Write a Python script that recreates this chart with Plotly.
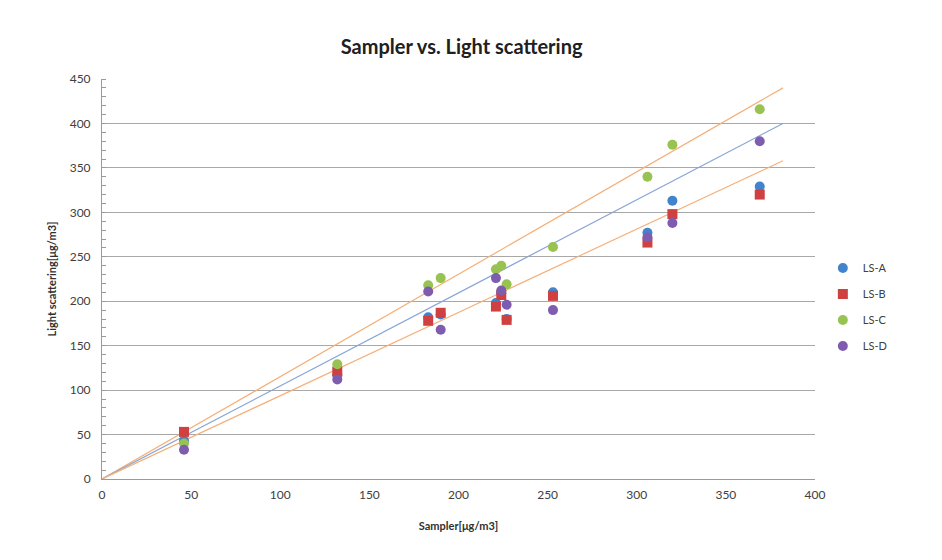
import plotly.graph_objects as go

# sampler concentration (x) for each measurement
sampler = [46, 132, 183, 190, 221, 224, 227, 253, 306, 320, 369]

# light scattering readings per instrument
ls_a = [43, 117, 182, 185, 198, 209, 180, 210, 277, 313, 329]
ls_b = [53, 121, 178, 187, 194, 207, 179, 206, 266, 298, 320]
ls_c = [40, 129, 218, 226, 236, 240, 219, 261, 340, 376, 416]
ls_d = [33, 112, 211, 168, 226, 212, 196, 190, 272, 288, 380]

# reference lines: 1:1 fit and +/-10 %
ref_x = [0, 382]
ref_fit = [0, 400]
ref_hi = [0, 440]
ref_lo = [0, 358]

fig = go.Figure()

line_style = [(ref_hi, "#f5b07a"), (ref_fit, "#87a5d6"), (ref_lo, "#f5b07a")]
for ys, col in line_style:
    fig.add_trace(go.Scatter(x=ref_x, y=ys, mode="lines", line=dict(color=col, width=1.2),
                             showlegend=False, hoverinfo="skip"))

series = [
    ("LS-A", ls_a, "#4183cc", "circle"),
    ("LS-B", ls_b, "#cf4040", "square"),
    ("LS-C", ls_c, "#98c352", "circle"),
    ("LS-D", ls_d, "#7e5db0", "circle"),
]
for name, ys, col, sym in series:
    fig.add_trace(go.Scatter(x=sampler, y=ys, mode="markers", name=name, legendgroup=name,
                             marker=dict(color=col, symbol=sym, size=10)))

clear = "rgba(0,0,0,0)"
fig.update_layout(
    width=942, height=560,
    margin=dict(l=94, r=135, t=71, b=89),
    paper_bgcolor="white", plot_bgcolor="white",
    font=dict(family="Lato, Open Sans, sans-serif", color="#404040", size=12),
    title=dict(text="<b>Sampler vs. Light scattering</b>", x=0.4815, xanchor="center", y=0.943,
               font=dict(size=20, color="#202020")),
    xaxis=dict(range=[0, 400], dtick=50, showgrid=False, zeroline=False,
               showline=True, linecolor="#9a9a9a", linewidth=1,
               ticks="outside", ticklen=5, tickcolor=clear,
               title=dict(text="<b>Sampler[μg/m3]</b>", font=dict(size=11, color="#303030"), standoff=20)),
    yaxis=dict(range=[0, 450], dtick=50, showgrid=True, gridcolor="#a8a8a8", gridwidth=1,
               zeroline=False, showline=True, linecolor="#9a9a9a", linewidth=1,
               ticks="outside", ticklen=8, tickcolor=clear,
               minor=dict(dtick=10, ticks="inside", ticklen=4, tickcolor="#9a9a9a", showgrid=False),
               title=dict(text="<b>Light scattering[μg/m3]</b>", font=dict(size=11, color="#303030"), standoff=10)),
    legend=dict(x=1.011, xanchor="left", y=0.43, yanchor="middle", tracegroupgap=7,
                font=dict(size=11, color="#404040"), bgcolor=clear),
)

fig.write_html("out.html")
